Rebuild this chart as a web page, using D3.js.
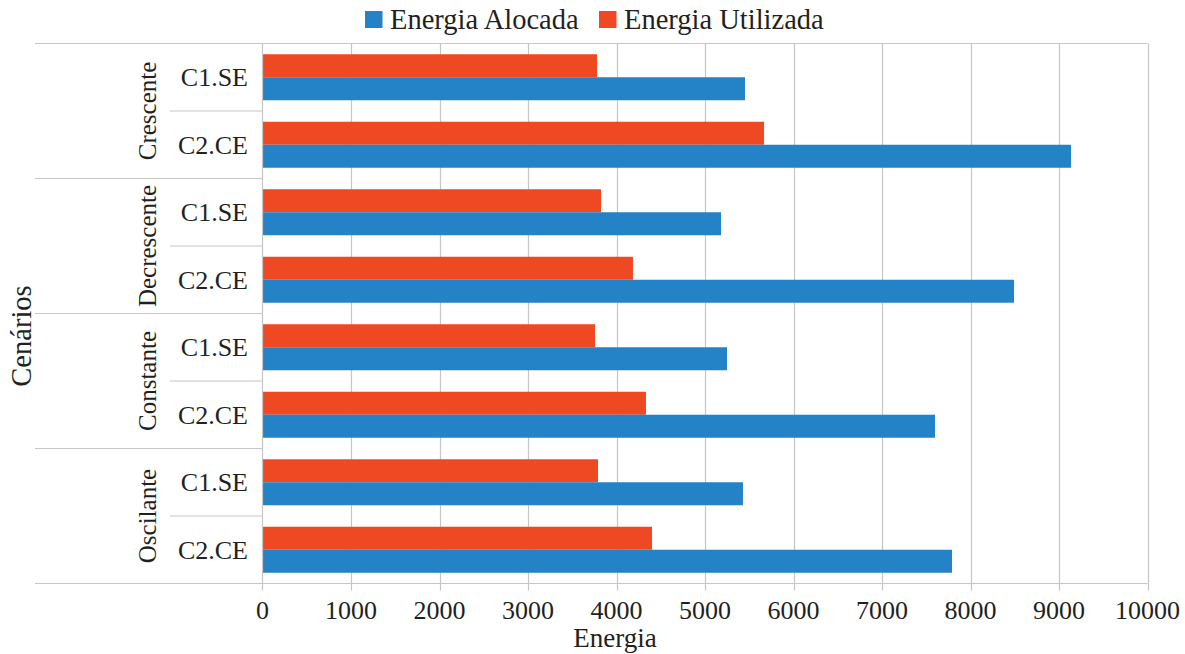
<!DOCTYPE html>
<html>
<head>
<meta charset="utf-8">
<script src="https://cdn.jsdelivr.net/npm/d3@7"></script>
<style>
  html, body { margin: 0; padding: 0; background: #fff; }
  svg { display: block; font-family: "Liberation Serif", "Times New Roman", serif; }
</style>
</head>
<body>
<svg id="chart" width="1185" height="654"></svg>
<script>
// Scenario groups and configurations, top to bottom
const groups = ["Crescente", "Decrescente", "Constante", "Oscilante"];
const configs = ["C1.SE", "C2.CE"];

// Energy per group (C1.SE, C2.CE)
const energiaAlocada = [5452, 9136, 5181, 8492, 5249, 7599, 5429, 7791];
const energiaUtilizada = [3780, 5667, 3825, 4186, 3757, 4333, 3791, 4401];

const seriesNames = ["Energia Alocada", "Energia Utilizada"];
const seriesColors = ["#2482c6", "#ef4923"];
const xTicks = [0, 1000, 2000, 3000, 4000, 5000, 6000, 7000, 8000, 9000, 10000];

// Build rows
const rows = [];
groups.forEach((g, gi) => {
  configs.forEach((c, ci) => {
    const i = gi * configs.length + ci;
    rows.push({ id: g + "|" + c, group: g, config: c,
      alocada: energiaAlocada[i], utilizada: energiaUtilizada[i] });
  });
});

const svg = d3.select("#chart");
const plotLeft = 262.5, plotRight = 1147.5, plotTop = 43.5, plotBottom = 583.5;
const gridColor = "#c6c6c6";
const textColor = "#231f20";

const x = d3.scaleLinear().domain([0, 10000]).range([plotLeft, plotRight]);
const y = d3.scaleBand().domain(rows.map(r => r.id)).range([plotTop, plotBottom])
  .paddingInner(0.3185).paddingOuter(0.15925);
const ySub = d3.scaleBand().domain(["utilizada", "alocada"]).range([0, y.bandwidth()]);

// Vertical gridlines with tick extensions below the axis
svg.append("g").selectAll("line").data(xTicks.slice(1)).join("line")
  .attr("x1", d => Math.round(x(d)) + 0.5).attr("x2", d => Math.round(x(d)) + 0.5)
  .attr("y1", plotTop).attr("y2", plotBottom + 7)
  .attr("stroke", gridColor).attr("stroke-width", 1.2);

// Bars
const rowG = svg.append("g").selectAll("g").data(rows).join("g")
  .attr("transform", d => `translate(0,${y(d.id)})`);
rowG.append("rect")
  .attr("x", x(0)).attr("y", ySub("utilizada"))
  .attr("width", d => x(d.utilizada) - x(0)).attr("height", ySub.bandwidth())
  .attr("fill", seriesColors[1]);
rowG.append("rect")
  .attr("x", x(0)).attr("y", ySub("alocada"))
  .attr("width", d => x(d.alocada) - x(0)).attr("height", ySub.bandwidth())
  .attr("fill", seriesColors[0]);

// Axis lines
const step = y.step();
svg.append("line").attr("x1", 35).attr("x2", plotRight).attr("y1", plotTop).attr("y2", plotTop)
  .attr("stroke", gridColor).attr("stroke-width", 1.2);
svg.append("line").attr("x1", 35).attr("x2", plotRight).attr("y1", plotBottom).attr("y2", plotBottom)
  .attr("stroke", gridColor).attr("stroke-width", 1.2);
svg.append("line").attr("x1", plotLeft).attr("x2", plotLeft).attr("y1", plotTop).attr("y2", plotBottom + 7)
  .attr("stroke", gridColor).attr("stroke-width", 1.2);

// Group separators (long) and configuration separators (short)
const groupEdges = groups.map((g, gi) => plotTop + gi * configs.length * step).slice(1);
svg.append("g").selectAll("line").data(groupEdges).join("line")
  .attr("x1", 35).attr("x2", plotLeft).attr("y1", d => d).attr("y2", d => d)
  .attr("stroke", gridColor).attr("stroke-width", 1.2);
const innerEdges = groups.map((g, gi) => plotTop + (gi * configs.length + 1) * step);
svg.append("g").selectAll("line").data(innerEdges).join("line")
  .attr("x1", 170).attr("x2", plotLeft).attr("y1", d => d).attr("y2", d => d)
  .attr("stroke", gridColor).attr("stroke-width", 1.2);

// Configuration labels
svg.append("g").selectAll("text").data(rows).join("text")
  .attr("x", 248).attr("y", d => y(d.id) + y.bandwidth() / 2 + 9)
  .attr("text-anchor", "end").attr("font-size", 26).attr("fill", textColor)
  .text(d => d.config);

// Group labels (rotated)
svg.append("g").selectAll("text").data(groups).join("text")
  .attr("transform", (g, gi) => {
    const cy = plotTop + (gi + 0.5) * configs.length * step;
    return `translate(156,${cy}) rotate(-90)`;
  })
  .attr("text-anchor", "middle").attr("font-size", 25).attr("fill", textColor)
  .text(d => d);

// X tick labels
svg.append("g").selectAll("text").data(xTicks).join("text")
  .attr("x", d => x(d)).attr("y", 618.5)
  .attr("text-anchor", "middle").attr("font-size", 26).attr("fill", textColor)
  .text(d => d);

// Axis titles
svg.append("text").attr("x", 615).attr("y", 647)
  .attr("text-anchor", "middle").attr("font-size", 27).attr("fill", textColor)
  .text("Energia");
svg.append("text").attr("transform", "translate(31,336) rotate(-90)")
  .attr("text-anchor", "middle").attr("font-size", 28.5).attr("fill", textColor)
  .text("Cenários");

// Legend
const legend = [
  { name: seriesNames[0], color: seriesColors[0], x: 365 },
  { name: seriesNames[1], color: seriesColors[1], x: 599 }
];
const lg = svg.append("g").selectAll("g").data(legend).join("g")
  .attr("transform", d => `translate(${d.x},0)`);
lg.append("rect").attr("x", 0).attr("y", 11).attr("width", 17.5).attr("height", 17)
  .attr("fill", d => d.color);
lg.append("text").attr("x", 25).attr("y", 28.5).attr("font-size", 28.5).attr("fill", textColor)
  .text(d => d.name);
</script>
</body>
</html>
